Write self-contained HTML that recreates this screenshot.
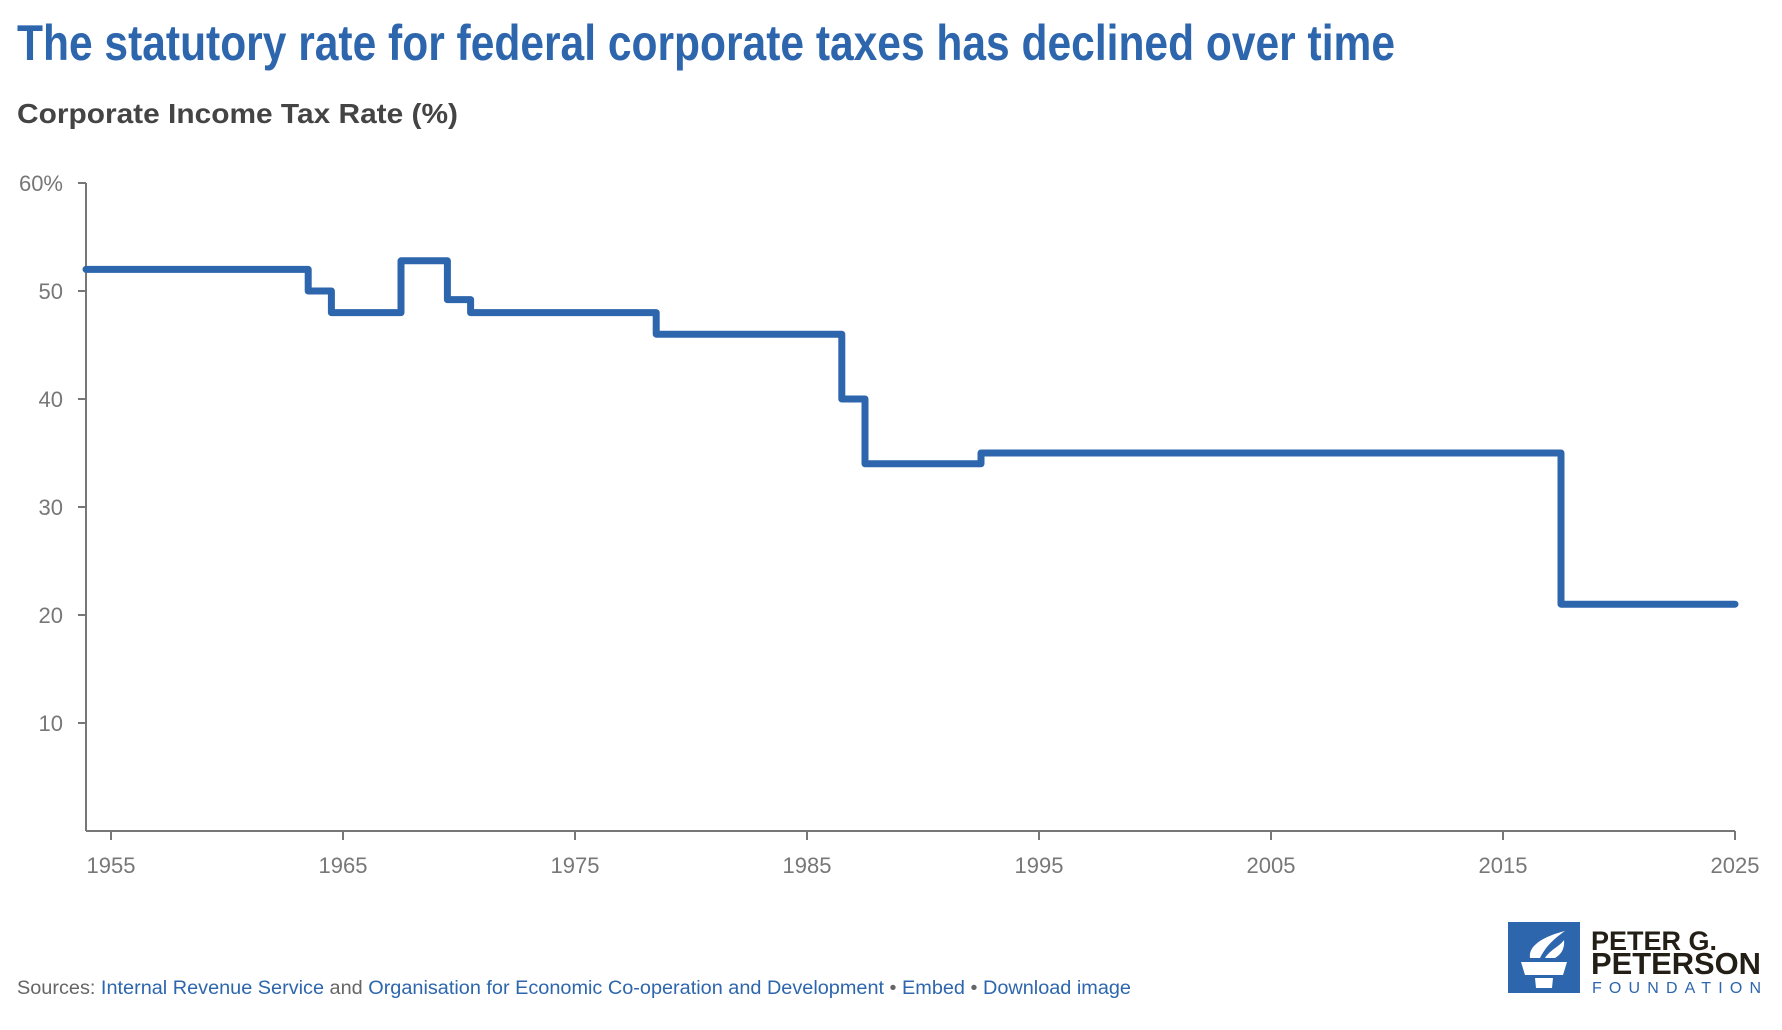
<!DOCTYPE html>
<html><head><meta charset="utf-8">
<style>
html,body{margin:0;padding:0;background:#fff;}
svg{display:block;font-family:"Liberation Sans",sans-serif;}
</style></head>
<body>
<svg id="chart" width="1782" height="1030" viewBox="0 0 1782 1030">
  <text x="17" y="60" font-size="50" font-weight="bold" fill="#2d66ad" textLength="1378" lengthAdjust="spacingAndGlyphs">The statutory rate for federal corporate taxes has declined over time</text>
  <text x="17" y="123" font-size="28" font-weight="bold" fill="#444" textLength="441" lengthAdjust="spacingAndGlyphs">Corporate Income Tax Rate (%)</text>
  <g id="axes"></g>
  <path id="line" fill="none" stroke="#2d66ad" stroke-width="7" stroke-linejoin="round" stroke-linecap="round"></path>
  <text x="17" y="994" font-size="19" fill="#666" textLength="1114" lengthAdjust="spacingAndGlyphs">Sources: <tspan fill="#2d66ad">Internal Revenue Service</tspan> and <tspan fill="#2d66ad">Organisation for Economic Co-operation and Development</tspan> • <tspan fill="#2d66ad">Embed</tspan>  • <tspan fill="#2d66ad">Download image</tspan></text>
  <g>
    <rect x="1508" y="922" width="72" height="71" fill="#2d66ad"></rect>
    <path d="M1521 962 L1567 962 L1563 975 L1525 975 Z M1535 978 L1553 978 L1552 988 L1536 988 Z M1530 958 C1528 945 1545 936 1565 931 C1552 940 1545 948 1540 958 Z M1545 958 C1550 950 1560 946 1564 940 C1565 950 1560 955 1555 958 Z" fill="#fff"></path>
    <text x="1591" y="950" font-size="27" font-weight="bold" fill="#231f16">PETER G.</text>
    <text x="1591" y="974" font-size="31" font-weight="bold" fill="#231f16" textLength="170" lengthAdjust="spacingAndGlyphs">PETERSON</text>
    <text x="1592" y="993" font-size="16" fill="#2d66ad" textLength="169" lengthAdjust="spacing">FOUNDATION</text>
  </g>
</svg>
<script>
const years = [];
for (let y = 1954; y <= 2025; y++) years.push(y);
const rateSegments = [
  [1954, 1963, 52], [1964, 1964, 50], [1965, 1967, 48], [1968, 1969, 52.8],
  [1970, 1970, 49.2], [1971, 1978, 48], [1979, 1986, 46], [1987, 1987, 40],
  [1988, 1992, 34], [1993, 2017, 35], [2018, 2025, 21]
];
const xTicks = [1955, 1965, 1975, 1985, 1995, 2005, 2015, 2025];
const yTicks = [10, 20, 30, 40, 50, 60];
const yTickLabels = ["10", "20", "30", "40", "50", "60%"];

const rates = years.map(y => { for (const s of rateSegments) if (y >= s[0] && y <= s[1]) return s[2]; return null; });

const NS = "http://www.w3.org/2000/svg";
const X0 = 86, XEND = 1735, Y0 = 831;
function xs(y) { return 111 + (y - 1955) * 23.2; }
function ys(v) { return Y0 - v * 10.8; }

const axes = document.getElementById('axes');
function mk(tag, attrs, parent) { const e = document.createElementNS(NS, tag); for (const k in attrs) e.setAttribute(k, attrs[k]); (parent || axes).appendChild(e); return e; }

const ya = mk('line', {x1: X0, y1: ys(60), x2: X0, y2: Y0, stroke: '#777', 'stroke-width': 2});


const xa = mk('line', {x1: X0, y1: Y0, x2: XEND, y2: Y0, stroke: '#777', 'stroke-width': 2});



yTicks.forEach((v, i) => {
  const t = mk('line', {x1: X0 - 8, y1: ys(v), x2: X0, y2: ys(v), stroke: '#777', 'stroke-width': 2});
  
  
  const l = mk('text', {x: X0 - 23, y: ys(v) + 8, 'font-size': 22, fill: '#777', 'text-anchor': 'end'});
  l.textContent = yTickLabels[i];
  
  
});
xTicks.forEach(v => {
  const t = mk('line', {x1: xs(v), y1: Y0, x2: xs(v), y2: Y0 + 9, stroke: '#777', 'stroke-width': 2});
  
  
  const l = mk('text', {x: xs(v), y: Y0 + 42, 'font-size': 22, fill: '#777', 'text-anchor': 'middle'});
  l.textContent = v;
  
  
});

let d = '';
years.forEach((y, i) => {
  const xa0 = Math.max(X0, xs(y - 0.5)), xa1 = Math.min(XEND, xs(y + 0.5));
  const yy = ys(rates[i]);
  d += (i === 0 ? 'M' : 'L') + xa0.toFixed(1) + ' ' + yy.toFixed(1) + ' L' + xa1.toFixed(1) + ' ' + yy.toFixed(1) + ' ';
});
document.getElementById('line').setAttribute('d', d);
</script>
</body></html>
